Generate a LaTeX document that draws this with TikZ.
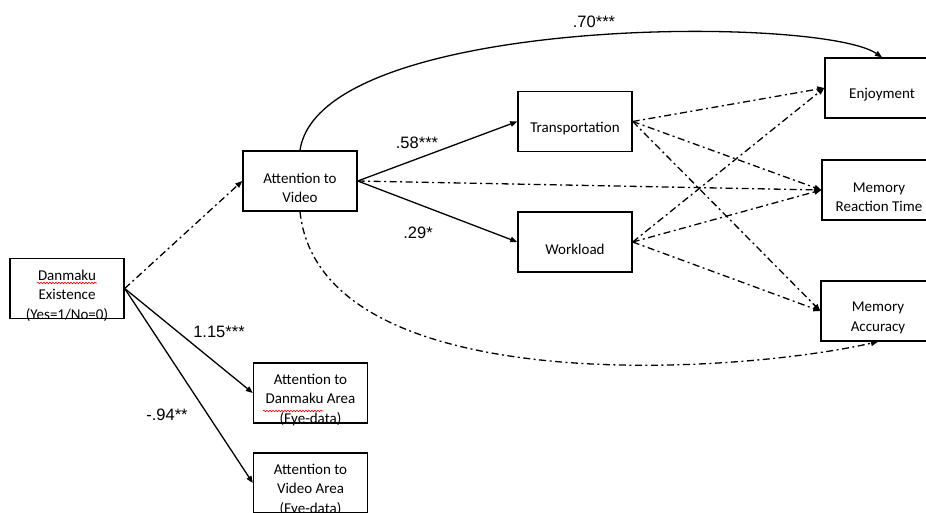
\documentclass[tikz,border=0pt]{standalone}
\usepackage{fontspec}
\newfontfamily\boxfont{Carlito}
\newfontfamily\coeffont{Liberation Sans}
\usetikzlibrary{arrows.meta,decorations.pathmorphing}

\tikzset{
	vtext/.style={inner sep=0pt, yshift=-7pt, align=center,
		font=\boxfont\fontsize{15}{19.5}\selectfont},
	var/.style={draw, line width=1.4pt, minimum width=114pt, minimum height=60pt,
		inner sep=0pt, label={[vtext]center:#1}},
	sig/.style={->, line width=1.3pt},
	nsig/.style={->, line width=1.3pt, dash pattern=on 7pt off 3.5pt on 2pt off 3.5pt},
	coef/.style={inner sep=0pt, font=\coeffont\fontsize{16.5}{19}\selectfont},
	spell/.style={red, line width=0.6pt, decorate,
		decoration={snake, amplitude=0.8pt, segment length=3pt}},
	>={Triangle[length=7pt,width=5.5pt]}
}

\begin{document}
\begin{tikzpicture}[x=1pt, y=-1pt]
	\useasboundingbox (0,0) rectangle (926,513);
	\clip (0,0) rectangle (926,513);

	% variables
	\node[var={Danmaku\\Existence\\(Yes=1/No=0)}] (dex) at (67,288.5) {};
	\node[var={Attention to\\Video}] (av) at (300,181) {};
	\node[var={Transportation}] (tr) at (575,121.5) {};
	\node[var={Workload}] (wl) at (575,242) {};
	\node[var={Enjoyment}] (enj) at (882,88) {};
	\node[var={Memory\\Reaction Time}] (mrt) at (879,190) {};
	\node[var={Memory\\Accuracy}] (mac) at (878,311) {};
	\node[var={Attention to\\Danmaku Area\\(Eye-data)}] (dan) at (310.5,393) {};
	\node[var={Attention to\\Video Area\\(Eye-data)}] (vid) at (310.5,483) {};

	\draw[spell] (37,283) -- (97,283);
	\draw[spell] (263,411) -- (323,411);

	% paths
	\draw[nsig] (dex.east) -- (av.west);
	\draw[sig] (dex.east) -- (dan.west);
	\draw[sig] (dex.east) -- (vid.west);
	\draw[sig] (av.east) -- (tr.west);
	\draw[sig] (av.east) -- (wl.west);
	\draw[nsig] (av.east) -- (mrt.west);
	\foreach \m in {tr,wl}
		\foreach \o in {enj,mrt,mac}
			\draw[nsig] (\m.east) -- (\o.west);

	\draw[sig] (av.north) .. controls (320,15) and (820,15) .. (enj.north);
	\draw[nsig] (av.south) .. controls (320,400) and (730,375) .. (mac.south);

	% coefficients
	\node[coef] (c70) at (594,22) {.70***};
	\node[coef] (c58) at (417,143) {.58***};
	\node[coef] (c29) at (418,233) {.29*};
	\node[coef] (c115) at (219,332) {1.15***};
	\node[coef] (c94) at (167,415) {-.94**};
\end{tikzpicture}
\end{document}
